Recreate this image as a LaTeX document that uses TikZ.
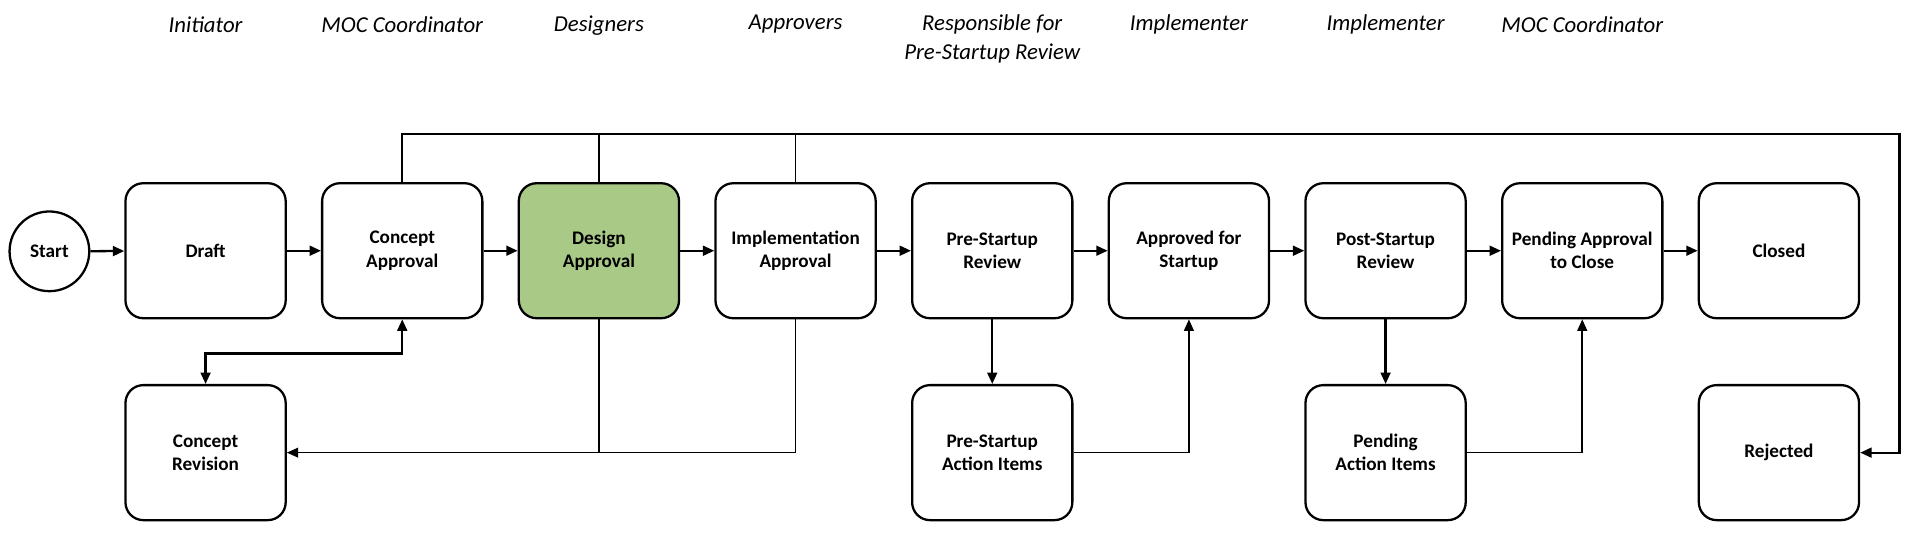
\documentclass[tikz,border=0pt]{standalone}
\usepackage{fontspec}
\setmainfont{Carlito}
\usetikzlibrary{arrows.meta}
\definecolor{mocgreen}{RGB}{169,201,134}

\begin{document}
\begin{tikzpicture}[x=0.75pt, y=-0.75pt,
		state/.style={draw, line width=1.4pt, rounded corners=11pt, minimum width=98.5pt, minimum height=83pt, align=center, font=\fontsize{11.8}{14.2}\selectfont\bfseries},
		startstate/.style={draw, circle, line width=1.4pt, minimum size=49pt, font=\fontsize{11.8}{14.2}\selectfont\bfseries},
		role/.style={align=center, font=\fontsize{14}{18}\selectfont\itshape},
		flow/.style={line width=1.4pt, -{Triangle[length=7pt,width=6pt]}},
		flowboth/.style={line width=1.4pt, {Triangle[length=7pt,width=6pt]}-{Triangle[length=7pt,width=6pt]}},
		backflow/.style={line width=1pt}]
			%%%%% START %%%%%
			\useasboundingbox (0,0) rectangle (1568,440.2);
			
			% roles
			\node[role] (r1) at (168.5, 20) {Initiator};
			\node[role] (r2) at (329.7, 20) {MOC Coordinator};
			\node[role] (r3) at (490.9, 21) {Designers};
			\node[role] (r4) at (652.1, 20) {Approvers};
			\node[role] (r5) at (813.3, 32) {Responsible for\\Pre-Startup Review};
			\node[role] (r6) at (974.5, 20) {Implementer};
			\node[role] (r7) at (1135.7, 20) {Implementer};
			\node[role] (r8) at (1296.9, 20) {MOC Coordinator};
			
			% states
			\node[startstate] (start) at (40.5, 206) {Start};
			\node[state] (draft) at (168.5, 205.5) {Draft};
			\node[state] (conapp) at (329.7, 205.5) {Concept\\Approval};
			\node[state, fill=mocgreen] (desapp) at (490.9, 205.5) {Design\\Approval};
			\node[state] (impapp) at (652.1, 205.5) {Implementation\\Approval};
			\node[state] (prerev) at (813.3, 205.5) {Pre-Startup\\Review};
			\node[state] (aprstart) at (974.5, 205.5) {Approved for\\Startup};
			\node[state] (postrev) at (1135.7, 205.5) {Post-Startup\\Review};
			\node[state] (pendclose) at (1296.9, 205.5) {Pending Approval\\to Close};
			\node[state] (closed) at (1458.1, 205.5) {Closed};
			
			\node[state] (conrev) at (168.5, 371) {Concept\\Revision};
			\node[state] (preitems) at (813.3, 371) {Pre-Startup\\Action Items};
			\node[state] (penditems) at (1135.7, 371) {Pending\\Action Items};
			\node[state] (rejected) at (1458.1, 371) {Rejected};
			
			\coordinate (topright) at (1557, 110);
			
			% main flow
			\draw[flow] (start) -- (draft);
			\draw[flow] (draft) -- (conapp);
			\draw[flow] (conapp) -- (desapp);
			\draw[flow] (desapp) -- (impapp);
			\draw[flow] (impapp) -- (prerev);
			\draw[flow] (prerev) -- (aprstart);
			\draw[flow] (aprstart) -- (postrev);
			\draw[flow] (postrev) -- (pendclose);
			\draw[flow] (pendclose) -- (closed);
			
			% rejection
			\draw[flow] (conapp.north) |- (topright) |- (rejected.east);
			\draw[backflow] (desapp.north) -- (desapp.north |- topright);
			\draw[backflow] (impapp.north) -- (impapp.north |- topright);
			
			% revision
			\draw[flowboth] (conapp.south) -- ++(0,28) -| (conrev.north);
			\draw[backflow, -{Triangle[length=7pt,width=6pt]}] (impapp.south) |- (conrev.east);
			\draw[backflow] (desapp.south) -- (desapp.south |- conrev.east);
			
			% action items
			\draw[flow] (prerev) -- (preitems);
			\draw[backflow, -{Triangle[length=7pt,width=6pt]}] (preitems.east) -| (aprstart.south);
			\draw[flow] (postrev) -- (penditems);
			\draw[backflow, -{Triangle[length=7pt,width=6pt]}] (penditems.east) -| (pendclose.south);
			
			%%%%% END %%%%%
\end{tikzpicture}
\end{document}
